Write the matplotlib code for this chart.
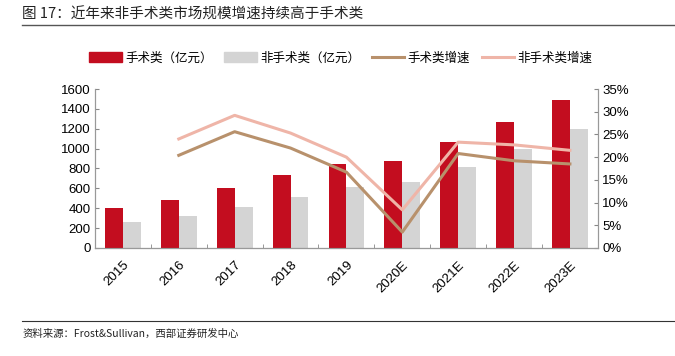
import numpy as np
import matplotlib
matplotlib.use("Agg")
import matplotlib.pyplot as plt
from matplotlib.lines import Line2D

plt.rcParams['font.family'] = ['Liberation Sans', 'Noto Sans CJK SC', 'DejaVu Sans']

years = ["2015", "2016", "2017", "2018", "2019", "2020E", "2021E", "2022E", "2023E"]
surgical = [400, 480, 600, 730, 850, 880, 1063, 1263, 1492]
non_surgical = [260, 320, 410, 510, 612, 661, 812, 995, 1201]
surgical_growth = [np.nan, 20.4, 25.6, 22.0, 16.7, 3.5, 20.8, 19.2, 18.5]
non_surgical_growth = [np.nan, 24.0, 29.2, 25.3, 20.0, 8.4, 23.3, 22.7, 21.5]

RED = "#C30D1F"
GREY = "#D4D4D4"
TAN = "#B8916C"
PINK = "#EFB5A8"
CJK = ['Noto Sans CJK SC', 'DejaVu Sans']

fig = plt.figure(figsize=(6.75, 3.56), dpi=100)
ax = fig.add_axes([0.1407, 0.3034, 0.745, 0.4466])
ax2 = ax.twinx()

x = np.arange(len(years))
w = 0.32
ax.bar(x - w / 2, surgical, w, color=RED, zorder=2)
ax.bar(x + w / 2, non_surgical, w, color=GREY, zorder=2)
ax2.plot(x, surgical_growth, color=TAN, lw=2.2)
ax2.plot(x, non_surgical_growth, color=PINK, lw=2.2)

ax.set_xlim(-0.5, len(years) - 0.5)
ax.set_ylim(0, 1600)
ax.set_yticks(range(0, 1601, 200))
ax2.set_ylim(0, 35)
ax2.set_yticks(range(0, 36, 5))
ax2.set_yticklabels([f"{v}%" for v in range(0, 36, 5)])

ax.set_xticks(x)
ax.set_xticklabels(years, rotation=45, ha='right', rotation_mode='anchor', fontsize=9.5)
ax.tick_params(axis='x', length=0, pad=8)
ax.set_xticks(np.arange(-0.5, len(years), 1), minor=True)
ax.tick_params(axis='x', which='minor', direction='in', length=3, color='#888888')
ax.tick_params(axis='y', direction='in', length=3, color='#888888', labelsize=9.5, pad=3)
ax2.tick_params(axis='y', direction='in', length=3, color='#888888', labelsize=9.5, pad=3)

for a in (ax, ax2):
    a.spines['top'].set_visible(False)
    for s in ('left', 'right', 'bottom'):
        a.spines[s].set_color('#999999')
        a.spines[s].set_linewidth(0.8)
ax.spines['bottom'].set_color('#666666')

handles = [
    plt.Rectangle((0, 0), 1, 1, color=RED),
    plt.Rectangle((0, 0), 1, 1, color=GREY),
    Line2D([], [], color=TAN, lw=2.2),
    Line2D([], [], color=PINK, lw=2.2),
]
labels = ["手术类（亿元）", "非手术类（亿元）", "手术类增速", "非手术类增速"]
fig.legend(handles, labels, loc='center', bbox_to_anchor=(0.505, 0.837), ncol=4,
           frameon=False, prop={'family': CJK, 'size': 9}, handlelength=2.6,
           handleheight=0.9, handletextpad=0.3, columnspacing=0.9)

fig.text(0.033, 0.96, "图 17：近年来非手术类市场规模增速持续高于手术类", fontsize=10.5,
         family=CJK, va='center', ha='left', color='#222222')
fig.add_artist(Line2D([0.033, 1.0], [0.93, 0.93], color='#555555', lw=1.0))
fig.add_artist(Line2D([0.033, 1.0], [0.098, 0.098], color='#333333', lw=0.8))
fig.text(0.033, 0.062, "资料来源：Frost&Sullivan，西部证券研发中心", fontsize=7.5,
         family=CJK, va='center', ha='left', color='#222222')

fig.savefig("out.png", dpi=100)
